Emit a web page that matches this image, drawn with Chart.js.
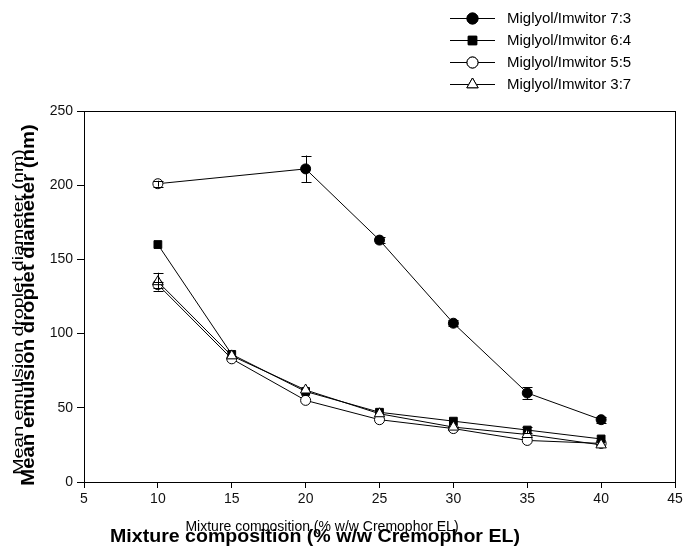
<!DOCTYPE html>
<html lang="en">
<head>
    <meta charset="UTF-8">
    <title>Mean emulsion droplet diameter</title>
    <script src="https://cdn.jsdelivr.net/npm/chart.js"></script>
    <style>
        body { margin: 0; background: #fff; }
    </style>
</head>
<body>
    <canvas id="grafico" width="686" height="550"></canvas>

    <script>
        // dados
        var composicao = [10, 15, 20, 25, 30, 35, 40];
        var mig73 = [201, null, 211, 163, 107, 60, 42];
        var mig64 = [160, 86, 61, 47, 41, 35, 29];
        var mig55 = [133, 83, 55, 42, 36, 28, 26];
        var mig37 = [135, 85, 62, 46, 37, 32, 25];
        var erro73 = [2, 0, 9, 2, 2, 4, 2];
        var erro64 = [0, 0, 0, 0, 0, 2, 0];
        var erro55 = [2, 0, 0, 0, 0, 0, 0];
        var erro37 = [6, 0, 0, 0, 0, 0, 0];
        var legendas = ['Miglyol/Imwitor 7:3', 'Miglyol/Imwitor 6:4', 'Miglyol/Imwitor 5:5', 'Miglyol/Imwitor 3:7'];
        var xTicks = [5, 10, 15, 20, 25, 30, 35, 40, 45];
        var yTicks = [0, 50, 100, 150, 200, 250];

        var tituloX = 'Mixture composition (% w/w Cremophor EL)';
        var tituloY = 'Mean emulsion droplet diameter (nm)';

        function pontos(vals) {
            return composicao.map(function (x, i) { return { x: x, y: vals[i] }; });
        }

        function serie(label, vals, erros, estilo, cheio, raio, ordem) {
            return {
                label: label,
                data: pontos(vals),
                erros: erros,
                borderColor: '#000',
                borderWidth: 1,
                pointStyle: estilo,
                pointRadius: raio,
                pointBorderColor: '#000',
                pointBorderWidth: 1,
                pointBackgroundColor: cheio,
                spanGaps: true,
                order: ordem,
                tension: 0
            };
        }

        // primeiro ponto da série 7:3 aparece vazio no original
        var fundo73 = composicao.map(function (x, i) { return i === 0 ? '#fff' : '#000'; });

        var datasets = [
            serie(legendas[0], mig73, erro73, 'circle', fundo73, 5, 0),
            serie(legendas[1], mig64, erro64, 'rect', '#000', 5.5, 2),
            serie(legendas[2], mig55, erro55, 'circle', '#fff', 5, 3),
            serie(legendas[3], mig37, erro37, 'triangle', '#fff', 6, 1)
        ];

        function textoGirado(ctx, txt, cx, cy, fonte, esticar) {
            ctx.save();
            ctx.translate(cx, cy);
            ctx.rotate(-Math.PI / 2);
            ctx.scale(esticar, 1);
            ctx.font = fonte;
            ctx.fillText(txt, 0, 0);
            ctx.restore();
        }

        // barras de erro, moldura, legenda e títulos
        var extras = {
            id: 'extras',
            afterDatasetsDraw: function (chart) {
                var ctx = chart.ctx, xs = chart.scales.x, ys = chart.scales.y;
                ctx.save();
                ctx.strokeStyle = '#000';
                ctx.lineWidth = 1;
                chart.data.datasets.forEach(function (ds) {
                    ds.data.forEach(function (p, i) {
                        var e = ds.erros[i];
                        if (p.y === null || !e) return;
                        var px = Math.round(xs.getPixelForValue(p.x)) + 0.5;
                        var y1 = ys.getPixelForValue(p.y + e);
                        var y2 = ys.getPixelForValue(p.y - e);
                        ctx.beginPath();
                        ctx.moveTo(px, y1); ctx.lineTo(px, y2);
                        ctx.moveTo(px - 5, Math.round(y1) + 0.5); ctx.lineTo(px + 5, Math.round(y1) + 0.5);
                        ctx.moveTo(px - 5, Math.round(y2) + 0.5); ctx.lineTo(px + 5, Math.round(y2) + 0.5);
                        ctx.stroke();
                    });
                });
                ctx.restore();
            },
            afterDraw: function (chart) {
                var ctx = chart.ctx, a = chart.chartArea;
                ctx.save();
                ctx.strokeStyle = '#000';
                ctx.lineWidth = 1;
                ctx.strokeRect(Math.round(a.left) + 0.5, Math.round(a.top) + 0.5,
                    Math.round(a.right - a.left), Math.round(a.bottom - a.top));

                // legenda
                ctx.font = '15px Arial';
                ctx.textBaseline = 'middle';
                ctx.fillStyle = '#000';
                chart.data.datasets.forEach(function (ds, i) {
                    var y = 18 + i * 22;
                    ctx.beginPath();
                    ctx.moveTo(450, y + 0.5); ctx.lineTo(495, y + 0.5);
                    ctx.stroke();
                    var cor = Array.isArray(ds.pointBackgroundColor) ? '#000' : ds.pointBackgroundColor;
                    ctx.fillStyle = cor;
                    Chart.helpers.drawPoint(ctx, {
                        pointStyle: ds.pointStyle, radius: ds.pointRadius + 0.5, borderWidth: 1
                    }, 472.5, y + 0.5);
                    ctx.fill();
                    ctx.stroke();
                    ctx.fillStyle = '#000';
                    ctx.fillText(ds.label, 507, y + 1);
                });

                // títulos dos eixos (duplicados como no original)
                ctx.textAlign = 'center';
                ctx.textBaseline = 'middle';
                ctx.font = '14px Arial';
                ctx.fillText(tituloX, 322, 527);
                ctx.save();
                ctx.translate(315, 537);
                ctx.scale(1.03, 1);
                ctx.font = 'bold 19px Arial';
                ctx.fillText(tituloX, 0, 0);
                ctx.restore();

                textoGirado(ctx, tituloY, 19, 312, '14px Arial', 1.4);
                textoGirado(ctx, tituloY, 29, 305, 'bold 19px Arial', 1.07);
                ctx.restore();
            }
        };

        var ctx = document.getElementById('grafico').getContext('2d');
        var grafico = new Chart(ctx, {
            type: 'line',
            data: { datasets: datasets },
            options: {
                responsive: false,
                animation: false,
                layout: { padding: { top: 111, right: 11, left: 0, bottom: 0 } },
                plugins: { legend: { display: false }, tooltip: { enabled: false } },
                scales: {
                    x: {
                        type: 'linear',
                        min: 5, max: 45,
                        afterFit: function (s) { s.height = 68; },
                        afterBuildTicks: function (s) { s.ticks = xTicks.map(function (v) { return { value: v }; }); },
                        grid: { drawOnChartArea: false, drawTicks: true, tickLength: 6, color: '#000' },
                        border: { display: true, color: '#000' },
                        ticks: { color: '#111', font: { family: 'Arial', size: 14 }, padding: 3, maxRotation: 0 }
                    },
                    y: {
                        min: 0, max: 250,
                        afterFit: function (s) { s.width = 84; },
                        afterBuildTicks: function (s) { s.ticks = yTicks.map(function (v) { return { value: v }; }); },
                        grid: { drawOnChartArea: false, drawTicks: true, tickLength: 7, color: '#000' },
                        border: { display: true, color: '#000' },
                        ticks: { color: '#111', font: { family: 'Arial', size: 14 }, padding: 4 }
                    }
                }
            },
            plugins: [extras]
        });
    </script>
</body>
</html>
